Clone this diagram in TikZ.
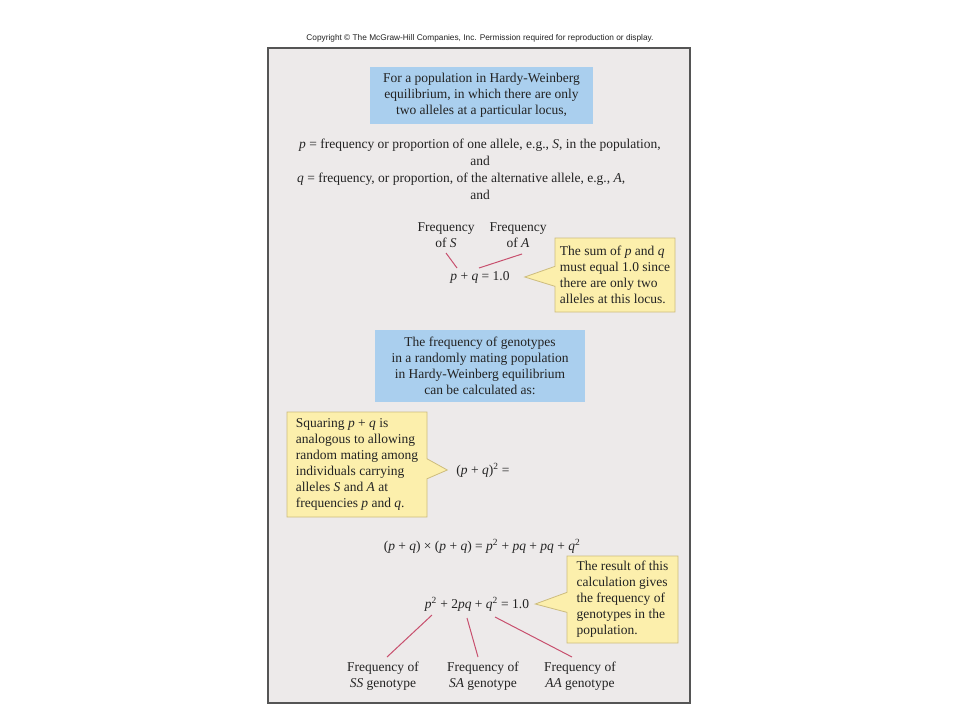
\documentclass[tikz,border=0pt]{standalone}
\usepackage{fontspec}
\setmainfont{Liberation Serif}
\newfontfamily\cpfont{Liberation Sans}
\usetikzlibrary{shapes.callouts,calc}
\definecolor{panel}{RGB}{237,234,234}
\definecolor{paneledge}{RGB}{85,85,85}
\definecolor{bluebox}{RGB}{170,207,238}
\definecolor{yellowbox}{RGB}{252,239,172}
\definecolor{yellowedge}{RGB}{205,188,125}
\definecolor{linkred}{RGB}{200,80,110}
\definecolor{ink}{RGB}{35,35,35}
\newcommand\itv[1]{\textit{#1}}
\begin{document}
\begin{tikzpicture}[x=1pt,y=-1pt,
  txt/.style={font=\fontsize{13.5}{16}\selectfont, text=ink, inner sep=0pt, align=center},
  bluenote/.style={txt, fill=bluebox},
  callbox/.style={txt, rectangle callout, fill=yellowbox, draw=yellowedge, line width=0.8pt, align=left, callout pointer width=20pt},
  link/.style={draw=linkred, line width=1pt}]
\useasboundingbox (0,0) rectangle (960,720);
\fill[white] (0,0) rectangle (960,720);

\node[font=\cpfont\fontsize{8.3}{10}\selectfont, text=ink, inner sep=0pt] (copy) at (480,38) {Copyright © The McGraw-Hill Companies, Inc. Permission required for reproduction or display.};

\draw[fill=panel, draw=paneledge, line width=1.2pt] (268,48) rectangle (690,703);

\node[bluenote, minimum width=223pt, minimum height=57pt] (b1) at (481.5,95.5)
  {For a population in Hardy-Weinberg\\equilibrium, in which there are only\\two alleles at a particular locus,};

\node[txt] (pdef) at (480,145) {\itv{p} = frequency or proportion of one allele, e.g., \itv{S}, in the population,};
\node[txt] (and1) at (480,161) {and};
\node[txt, anchor=west] (qdef) at (297,179) {\itv{q} = frequency, or proportion, of the alternative allele, e.g., \itv{A},};
\node[txt] (and2) at (480,195) {and};

\node[txt] (fS) at (446,235) {Frequency\\of \itv{S}};
\node[txt] (fA) at (518,235) {Frequency\\of \itv{A}};
\node[txt] (eq1) at (480,277) {\itv{p} + \itv{q} = 1.0};
\draw[link] ([shift={(0,18)}]fS.center) -- ([shift={(-23,-9)}]eq1.center);
\draw[link] ([shift={(4,19)}]fA.center) -- ([shift={(-1,-9)}]eq1.center);

\node[callbox, minimum width=120pt, minimum height=74pt,
  callout absolute pointer={([xshift=15pt]eq1.east)}] (c1) at (615,275)
  {The sum of \itv{p} and \itv{q}\\must equal 1.0 since\\there are only two\\alleles at this locus.};

\node[bluenote, minimum width=210pt, minimum height=72pt] (b2) at (480,366)
  {The frequency of genotypes\\in a randomly mating population\\in Hardy-Weinberg equilibrium\\can be calculated as:};

\node[txt] (eq2) at (483,470) {(\itv{p} + \itv{q})\textsuperscript{2} =};
\node[callbox, minimum width=140pt, minimum height=105pt,
  callout absolute pointer={([xshift=-9pt]eq2.west)}] (c2) at (357,464.5)
  {Squaring \itv{p} + \itv{q} is\\analogous to allowing\\random mating among\\individuals carrying\\alleles \itv{S} and \itv{A} at\\frequencies \itv{p} and \itv{q}.};

\node[txt] (eq3) at (482,546) {(\itv{p} + \itv{q}) × (\itv{p} + \itv{q}) = \itv{p}\textsuperscript{2} + \itv{pq} + \itv{pq} + \itv{q}\textsuperscript{2}};

\node[txt] (eq4) at (477,604) {\itv{p}\textsuperscript{2} + 2\itv{pq} + \itv{q}\textsuperscript{2} = 1.0};
\node[callbox, minimum width=111pt, minimum height=87pt,
  callout absolute pointer={([xshift=6pt]eq4.east)}] (c3) at (622.5,599.5)
  {The result of this\\calculation gives\\the frequency of\\genotypes in the\\population.};

\node[txt] (g1) at (383,676) {Frequency of\\\itv{SS} genotype};
\node[txt] (g2) at (483,676) {Frequency of\\\itv{SA} genotype};
\node[txt] (g3) at (580,676) {Frequency of\\\itv{AA} genotype};
\draw[link] ([shift={(-45,11)}]eq4.center) -- ([shift={(4,-19)}]g1.center);
\draw[link] ([shift={(-10,14)}]eq4.center) -- ([shift={(-5,-19)}]g2.center);
\draw[link] ([shift={(18,13)}]eq4.center) -- ([shift={(-8,-19)}]g3.center);
\end{tikzpicture}
\end{document}
